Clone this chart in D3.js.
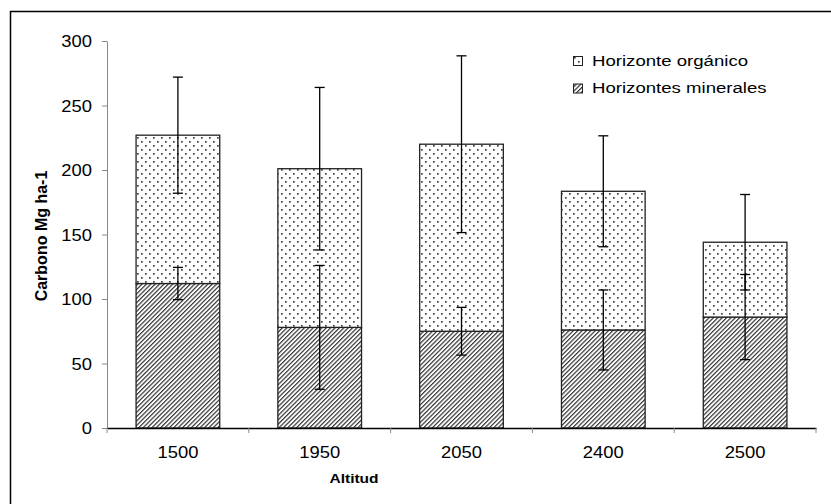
<!DOCTYPE html>
<meta charset="utf-8">
<style>
    body { margin: 0; background: #fff; }
    svg text { font-family: "Liberation Sans", Arial, sans-serif; fill: #000; }
</style>
<svg id="chart" width="831" height="504"></svg>
<script src="https://cdn.jsdelivr.net/npm/d3@7/dist/d3.min.js"></script>
<script>
    // data
    var altitudes = ["1500", "1950", "2050", "2400", "2500"];
    var mineral = [112, 78, 75, 76, 86];
    var mineralErr = [12.5, 48, 18.5, 31, 33];
    var total = [227, 201, 220, 183.5, 144];
    var totalErr = [45, 63, 68.5, 43, 37];
    var yTicks = [0, 50, 100, 150, 200, 250, 300];
    var legendLabels = ["Horizonte orgánico", "Horizontes minerales"];

    var svg = d3.select("#chart");
    var plotLeft = 107, plotRight = 816, plotTop = 41, plotBottom = 428;

    var x = d3.scaleBand().domain(altitudes).range([plotLeft, plotRight])
        .paddingInner(0.41).paddingOuter(0.205);
    var y = d3.scaleLinear().domain([0, 300]).range([plotBottom, plotTop]);

    // patterns
    var defs = svg.append("defs");
    var dots = defs.append("pattern").attr("id", "dots")
        .attr("patternUnits", "userSpaceOnUse").attr("width", 8).attr("height", 8);
    dots.append("rect").attr("width", 8).attr("height", 8).attr("fill", "#fff");
    dots.append("rect").attr("x", 1).attr("y", 1).attr("width", 1.7).attr("height", 1.7).attr("fill", "#444");
    dots.append("rect").attr("x", 5).attr("y", 5).attr("width", 1.7).attr("height", 1.7).attr("fill", "#444");

    var hatch = defs.append("pattern").attr("id", "hatch")
        .attr("patternUnits", "userSpaceOnUse").attr("width", 3.1).attr("height", 3.1)
        .attr("patternTransform", "rotate(45)");
    hatch.append("rect").attr("width", 3.1).attr("height", 3.1).attr("fill", "#fff");
    hatch.append("rect").attr("width", 1.2).attr("height", 3.1).attr("fill", "#333");

    // outer frame
    svg.append("rect").attr("x", 10.5).attr("y", 11.5).attr("width", 830).attr("height", 520)
        .attr("fill", "none").attr("stroke", "#000").attr("stroke-width", 1.5);

    // y axis
    var yAxis = svg.append("g").attr("transform", "translate(" + plotLeft + ",0)")
        .call(d3.axisLeft(y).tickValues(yTicks).tickSize(5).tickPadding(8).tickSizeOuter(0));
    yAxis.select(".domain").attr("stroke", "#888");
    yAxis.selectAll(".tick line").attr("stroke", "#888");
    yAxis.selectAll(".tick text").attr("font-size", 16).attr("font-family", "Liberation Sans, Arial")
        .attr("dy", "0.36em").attr("transform", "scale(1.15,1)");

    var data = altitudes.map(function (a, i) {
        return { alt: a, min: mineral[i], minErr: mineralErr[i], tot: total[i], totErr: totalErr[i] };
    });

    // bars
    var bars = svg.append("g");
    bars.selectAll(".min").data(data).join("rect")
        .attr("x", d => x(d.alt)).attr("width", x.bandwidth())
        .attr("y", d => y(d.min)).attr("height", d => y(0) - y(d.min))
        .attr("fill", "url(#hatch)").attr("stroke", "#222").attr("stroke-width", 1.3);
    bars.selectAll(".org").data(data).join("rect")
        .attr("x", d => x(d.alt)).attr("width", x.bandwidth())
        .attr("y", d => y(d.tot)).attr("height", d => y(d.min) - y(d.tot))
        .attr("fill", "url(#dots)").attr("stroke", "#222").attr("stroke-width", 1.3);

    // error bars
    function errorBars(val, err) {
        var g = svg.append("g").attr("stroke", "#000").attr("stroke-width", 1.3);
        data.forEach(function (d) {
            var cx = x(d.alt) + x.bandwidth() / 2;
            var lo = y(d[val] - d[err]), hi = y(d[val] + d[err]);
            g.append("line").attr("x1", cx).attr("x2", cx).attr("y1", lo).attr("y2", hi);
            g.append("line").attr("x1", cx - 5).attr("x2", cx + 5).attr("y1", lo).attr("y2", lo);
            g.append("line").attr("x1", cx - 5).attr("x2", cx + 5).attr("y1", hi).attr("y2", hi);
        });
    }
    errorBars("min", "minErr");
    errorBars("tot", "totErr");

    // x axis
    var xAxis = svg.append("g").attr("transform", "translate(0," + plotBottom + ")")
        .call(d3.axisBottom(x).tickSize(0).tickPadding(19).tickSizeOuter(0));
    xAxis.select(".domain").attr("stroke", "#000").attr("stroke-width", 1.3);
    xAxis.selectAll(".tick text").attr("font-size", 16).attr("font-family", "Liberation Sans, Arial")
        .attr("transform", "scale(1.15,1)");
    var step = x.step();
    var bounds = altitudes.map(a => x(a) - (step - x.bandwidth()) / 2).concat([plotRight]);
    xAxis.selectAll(".bound").data(bounds).join("line")
        .attr("x1", d => d).attr("x2", d => d).attr("y1", 0).attr("y2", 5)
        .attr("stroke", "#888");

    // axis titles
    svg.append("text").attr("transform", "translate(47,236) rotate(-90)")
        .attr("text-anchor", "middle").attr("font-weight", "bold").attr("font-size", 16)
        .text("Carbono Mg ha-1");
    svg.append("text").attr("transform", "translate(354,483) scale(1.15,1)")
        .attr("text-anchor", "middle").attr("font-weight", "bold").attr("font-size", 13.5)
        .text("Altitud");

    // legend
    var legend = svg.append("g").attr("transform", "translate(573,56)");
    var fills = ["url(#dots)", "url(#hatch)"];
    legendLabels.forEach(function (lab, i) {
        legend.append("rect").attr("x", 0.5).attr("y", i * 27.5 + 0.5).attr("width", 9).attr("height", 9)
            .attr("fill", fills[i]).attr("stroke", "#222").attr("stroke-width", 1);
        legend.append("text").attr("transform", "translate(19," + (i * 27.5 + 9.5) + ") scale(1.2,1)")
            .attr("font-size", 15.5).text(lab);
    });
</script>
